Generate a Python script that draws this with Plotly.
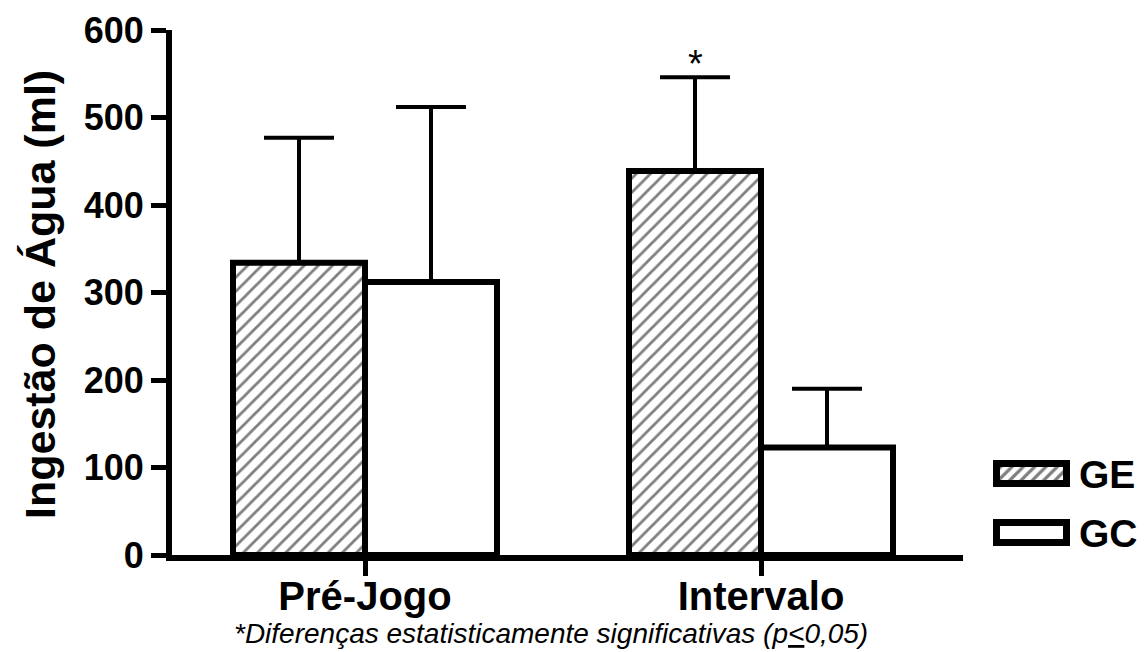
import plotly.graph_objects as go

# ---- data ----
categories = ["Pré-Jogo", "Intervalo"]
groups = ["GE", "GC"]
ge_values = [334, 439]
ge_errors = [143, 107]
gc_values = [312, 123]
gc_errors = [200, 67]
y_ticks = [0, 100, 200, 300, 400, 500, 600]
footnote = "*Diferenças estatisticamente significativas (p<u>&lt;</u>0,05)"
y_title = "Ingestão de Água (ml)"

# page has an 8px body margin: lay out on a slightly smaller canvas
OX, OY = 8, 8
W, H = 1147 - OX, 652 - OY
FONT = "Liberation Sans"


def px(xp):
    return (xp - OX) / W


def py(yp):
    return (H - (yp - OY)) / H


xpos = list(range(len(categories)))

fig = go.Figure()

fig.add_trace(go.Bar(
    x=xpos, y=ge_values, name=groups[0], showlegend=False,
    marker=dict(color="white", line=dict(color="black", width=6),
                pattern=dict(shape="/", size=10, solidity=0.28,
                             fgcolor="black", bgcolor="white", fillmode="overlay")),
    error_y=dict(type="data", symmetric=False, array=ge_errors,
                 arrayminus=[0] * len(ge_errors), color="black",
                 thickness=4, width=35),
    xaxis="x", yaxis="y",
))
fig.add_trace(go.Bar(
    x=xpos, y=gc_values, name=groups[1], showlegend=False,
    marker=dict(color="white", line=dict(color="black", width=6)),
    error_y=dict(type="data", symmetric=False, array=gc_errors,
                 arrayminus=[0] * len(gc_errors), color="black",
                 thickness=4, width=35),
    xaxis="x", yaxis="y",
))

# legend swatches in their own small subplot
fig.add_trace(go.Bar(
    y=groups[::-1], x=[1, 1], base=0, orientation="h", width=0.34,
    showlegend=False, hoverinfo="skip",
    marker=dict(color="white", line=dict(color="black", width=7),
                pattern=dict(shape=["", "/"], size=8, solidity=0.4,
                             fgcolor="black", bgcolor="white", fillmode="overlay")),
    xaxis="x2", yaxis="y2",
))

bar_w = 1 / 3.0

fig.update_layout(
    width=W, height=H,
    margin=dict(l=0, r=0, t=0, b=0),
    paper_bgcolor="white", plot_bgcolor="white",
    barmode="group", bargap=1 - 2 * bar_w, bargroupgap=0,
    showlegend=False,
    font=dict(family=FONT, color="black"),
    xaxis=dict(
        domain=[px(172), px(963)], range=[-(365 - 172) / 396, 1 + (963 - 761) / 396],
        tickvals=xpos, ticktext=categories,
        ticks="outside", ticklen=15, tickwidth=5, tickcolor="black",
        showline=True, linewidth=6, linecolor="black",
        showgrid=False, zeroline=False, automargin=False,
        ticklabelstandoff=-14,
        tickfont=dict(family=FONT, size=40, weight="bold", color="black"),
    ),
    yaxis=dict(
        domain=[py(555), py(30)], range=[0, 600],
        tickvals=y_ticks,
        ticks="outside", ticklen=15, tickwidth=5, tickcolor="black",
        showline=True, linewidth=6, linecolor="black",
        showgrid=False, zeroline=False, automargin=False,
        tickfont=dict(family=FONT, size=36, weight="bold", color="black"),
    ),
    xaxis2=dict(domain=[px(989.5), px(1073.5)], range=[-0.1, 1.1], anchor="y2",
                visible=False, fixedrange=True),
    yaxis2=dict(domain=[py(562), py(444)], anchor="x2",
                type="category", categoryorder="array", categoryarray=groups[::-1],
                visible=False, fixedrange=True),
)

ann = []
# y-axis title
ann.append(dict(text=y_title, xref="paper", yref="paper", x=px(40), y=py(295),
                textangle=-90, showarrow=False, xanchor="center", yanchor="middle",
                font=dict(family=FONT, size=43, weight="bold", color="black")))
# legend labels
for g, ypix in zip(groups, [474, 533]):
    ann.append(dict(text=g, xref="paper", yref="paper", x=px(1077), y=py(ypix),
                    showarrow=False, xanchor="left", yanchor="middle",
                    font=dict(family=FONT, size=39, weight="bold", color="black")))
# significance asterisk above Intervalo GE
ann.append(dict(text="*", xref="x", yref="y", x=1 - bar_w / 2, y=ge_values[1] + ge_errors[1],
                showarrow=False, xanchor="center", yanchor="bottom", yshift=-10,
                font=dict(family=FONT, size=38, color="black")))
# footnote
ann.append(dict(text="<i>" + footnote + "</i>", xref="paper", yref="paper",
                x=px(551), y=py(633), showarrow=False,
                xanchor="center", yanchor="middle",
                font=dict(family=FONT, size=28, color="black")))
fig.update_layout(annotations=ann)

fig.write_html("out.html")
